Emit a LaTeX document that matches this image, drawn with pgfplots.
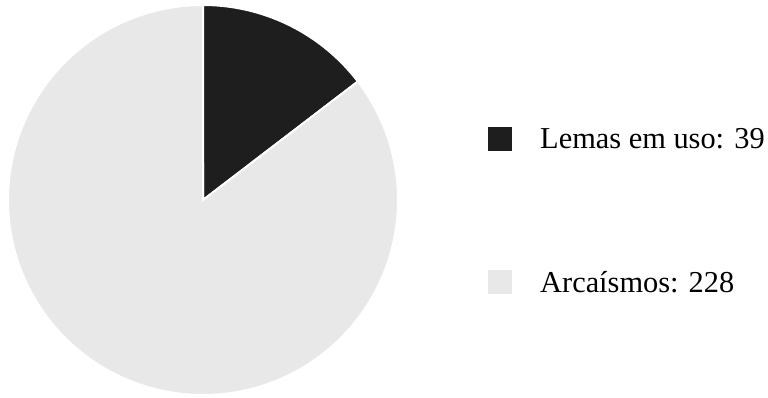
\documentclass[border=0pt]{standalone}
\usepackage{pgfplots}
\pgfplotsset{compat=1.18}
\usepackage{fontspec}
\setmainfont{Liberation Serif}
\definecolor{darkslice}{HTML}{1E1E1E}
\definecolor{lightslice}{HTML}{E8E8E8}
% data
\pgfmathsetmacro{\va}{39}
\pgfmathsetmacro{\vb}{228}
\pgfmathsetmacro{\tot}{\va+\vb}
\pgfmathsetmacro{\angA}{90-360*(\va/\tot)}
\pgfmathsetmacro{\angB}{\angA-360*(\vb/\tot)}
\begin{document}
\begin{tikzpicture}
\begin{axis}[width=768bp,height=398bp,scale only axis,
  xmin=0,xmax=768,ymin=0,ymax=398,hide axis,clip=false,
  legend style={at={(axis cs:486,273)},anchor=north west,draw=none,fill=none,
    inner sep=0pt,row sep=115bp,column sep=26bp,
    nodes={inner sep=0pt},
    font=\fontsize{30.5}{36}\selectfont},
  legend cell align=left,
  legend image code/.code={\fill[#1] (0bp,-13bp) rectangle (26bp,13bp);}]
\path (axis cs:0,0) rectangle (axis cs:768,398);
\addplot[fill=darkslice,draw=white,line width=2bp,domain=90:\angA,samples=120]
  ({203+195*cos(x)},{198+195*sin(x)}) -- (axis cs:203,198) -- cycle;
\addlegendentry{Lemas em uso: 39}
\addplot[fill=lightslice,draw=white,line width=2bp,domain=\angA:\angB,samples=300]
  ({203+195*cos(x)},{198+195*sin(x)}) -- (axis cs:203,198) -- cycle;
\addlegendentry{Arcaísmos: 228}
\end{axis}
\end{tikzpicture}
\end{document}
